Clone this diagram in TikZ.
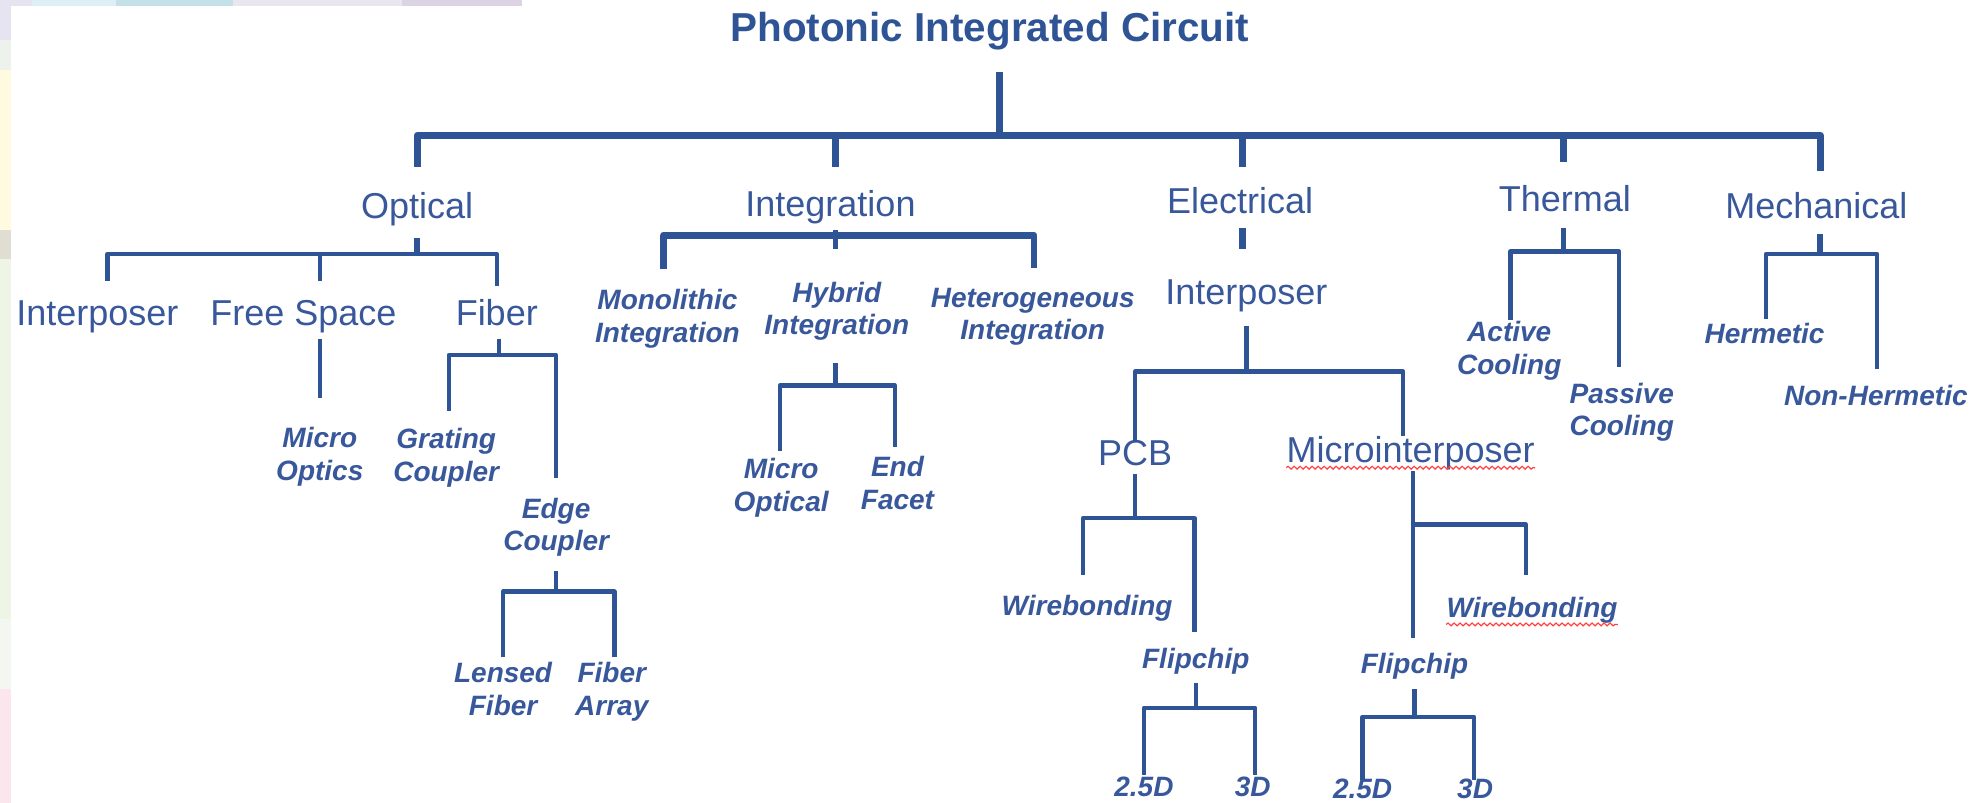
\documentclass[tikz,border=0pt]{standalone}
\usepackage{fontspec}
\setmainfont{Liberation Sans}
\usetikzlibrary{decorations.pathmorphing}
\definecolor{lineblue}{RGB}{46,84,150}
\definecolor{textblue}{RGB}{56,88,155}
\definecolor{bgA}{RGB}{230,228,240}
\definecolor{bgB}{RGB}{238,242,236}
\definecolor{bgC}{RGB}{255,250,224}
\definecolor{bgD}{RGB}{224,221,210}
\definecolor{bgE}{RGB}{238,245,228}
\definecolor{bgF}{RGB}{243,246,241}
\definecolor{bgG}{RGB}{251,230,238}
\definecolor{bgH}{RGB}{220,240,246}
\definecolor{bgI}{RGB}{198,224,234}
\definecolor{bgJ}{RGB}{234,230,240}
\definecolor{bgK}{RGB}{220,212,228}
\newcommand{\toprl}{\rule{0pt}{13pt}}
\newcommand{\botrl}{\rule[-3pt]{0pt}{3pt}}
\newcommand{\twol}[2]{\toprl#1\\#2\botrl}
\begin{document}
\begin{tikzpicture}[x=0.632pt,y=-0.632pt,
  thickln/.style={draw=lineblue,line width=3.4pt,line join=round},
  midln/.style={draw=lineblue,line width=2.8pt,line join=round},
  thinln/.style={draw=lineblue,line width=2.2pt,line join=round},
  ttl/.style={text=lineblue,font=\fontsize{20.2}{22}\selectfont\bfseries,inner sep=0pt},
  lvl/.style={text=textblue,font=\fontsize{18}{20}\selectfont,inner sep=0pt,text height=12.9pt,text depth=0pt},
  itl/.style={text=textblue,font=\fontsize{14}{16.4}\selectfont\bfseries\itshape,inner sep=0pt,text height=10pt,text depth=0pt},
  itm/.style={text=textblue,font=\fontsize{14}{16.4}\selectfont\bfseries\itshape,inner sep=0pt,align=center},
  wavy/.style={draw=red!75,line width=0.6pt,decorate,decoration={snake,amplitude=0.7pt,segment length=3pt}}]
\useasboundingbox (0,0) rectangle (1568,635);
% background strips
\fill[bgA] (0,0) rectangle (9,32);
\fill[bgB] (0,32) rectangle (9,55);
\fill[bgC] (0,55) rectangle (9,182);
\fill[bgD] (0,182) rectangle (9,205);
\fill[bgE] (0,205) rectangle (9,490);
\fill[bgF] (0,490) rectangle (9,545);
\fill[bgG] (0,545) rectangle (9,635);
\fill[bgA] (9,0) rectangle (25,5);
\fill[bgH] (25,0) rectangle (92,5);
\fill[bgI] (92,0) rectangle (184,5);
\fill[bgJ] (184,0) rectangle (318,5);
\fill[bgK] (318,0) rectangle (413,5);

% nodes
\node[ttl] (title) at (783,25) {Photonic Integrated Circuit};
\node[lvl] (optical) at (330,163) {Optical};
\node[lvl] (integration) at (657,161) {Integration};
\node[lvl] (electrical) at (981,159) {Electrical};
\node[lvl] (thermal) at (1238,157) {Thermal};
\node[lvl] (mechanical) at (1437,163) {Mechanical};
\node[lvl] (interpO) at (77,247) {Interposer};
\node[lvl] (freespace) at (240,247) {Free Space};
\node[lvl] (fiber) at (393,247) {Fiber};
\node[itm] (microoptics) at (253,359) {\twol{Micro}{Optics}};
\node[itm] (grating) at (353,360) {\twol{Grating}{Coupler}};
\node[itm] (edge) at (440,415) {\twol{Edge}{Coupler}};
\node[itm] (lensed) at (398,545) {\twol{Lensed}{Fiber}};
\node[itm] (fibarray) at (484,545) {\twol{Fiber}{Array}};
\node[itm] (mono) at (528,250) {\twol{Monolithic}{Integration}};
\node[itm] (hybrid) at (662,244) {\twol{Hybrid}{Integration}};
\node[itm] (hetero) at (817,248) {\twol{Heterogeneous}{Integration}};
\node[itm] (microoptical) at (618,384) {\twol{Micro}{Optical}};
\node[itm] (endfacet) at (710,382) {\twol{End}{Facet}};
\node[lvl] (interpE) at (986,231) {Interposer};
\node[lvl] (pcb) at (898,358) {PCB};
\node[lvl] (microint) at (1116,356) {Microinterposer};
\node[itl] (wb1) at (860,479) {Wirebonding};
\node[itl] (fc1) at (946,521) {Flipchip};
\node[itl] (d25a) at (905,622) {2.5D};
\node[itl] (d3a) at (991,622) {3D};
\node[itl] (wb2) at (1212,481) {Wirebonding};
\node[itl] (fc2) at (1119,525) {Flipchip};
\node[itl] (d25b) at (1078,624) {2.5D};
\node[itl] (d3b) at (1167,624) {3D};
\node[itm] (active) at (1194,275) {\twol{Active}{Cooling}};
\node[itm] (passive) at (1283,324) {\twol{Passive}{Cooling}};
\node[itl] (hermetic) at (1396,264) {Hermetic};
\node[itl] (nonhermetic) at (1484,313) {Non-Hermetic};

% spell-check underlines
\draw[wavy] (microint.south west |- 0,370) -- (microint.south east |- 0,370);
\draw[wavy] (wb2.south west |- 0,494) -- (wb2.south east |- 0,494);

% junction coordinates
\coordinate (root-t) at (791,57);
\coordinate (root-j) at (791,107);
\coordinate (top-l) at (330,107);
\coordinate (top-r) at (1440,107);
\coordinate (d-opt) at (330,132);
\coordinate (d-int) at (661,132);
\coordinate (d-ele) at (983,132);
\coordinate (d-the) at (1237,128);
\coordinate (d-mec) at (1440,135);
% top level
\draw[thickln] (root-t) -- (root-j);
\draw[thickln] (d-opt) |- (root-j) -| (d-mec);
\draw[thickln] (d-int) -- (d-int |- top-l);
\draw[thickln] (d-ele) -- (d-ele |- top-l);
\draw[thickln] (d-the) -- (d-the |- top-l);

% optical
\coordinate (opt-s) at (330,188);
\coordinate (opt-j) at (330,201);
\coordinate (opt-l) at (85,222);
\coordinate (opt-m) at (253,222);
\coordinate (opt-r) at (393,226);
\draw[midln] (opt-s) -- (opt-j);
\draw[thinln] (opt-l) |- (opt-j) -| (opt-r);
\draw[thinln] (opt-m) -- (opt-m |- opt-j);
\coordinate (fs-t) at (253,268);
\coordinate (fs-b) at (253,315);
\draw[thinln] (fs-t) -- (fs-b);
\coordinate (fib-s) at (395,268);
\coordinate (fib-j) at (395,281);
\coordinate (fib-l) at (355,325);
\coordinate (fib-r) at (440,378);
\draw[thinln] (fib-s) -- (fib-j);
\draw[thinln] (fib-l) |- (fib-j) -| (fib-r);
\coordinate (edg-s) at (440,452);
\coordinate (edg-j) at (440,468);
\coordinate (edg-l) at (398,520);
\coordinate (edg-r) at (486,520);
\draw[thinln] (edg-s) -- (edg-j);
\draw[thinln] (edg-l) |- (edg-j) -| (edg-r);

% integration
\coordinate (int-s) at (661,182);
\coordinate (int-j) at (661,186);
\coordinate (int-e) at (661,197);
\coordinate (int-l) at (525,213);
\coordinate (int-r) at (818,212);
\draw[thickln] (int-l) |- (int-j) -| (int-r);
\draw[midln] (int-s) -- (int-e);
\coordinate (hyb-s) at (661,287);
\coordinate (hyb-j) at (661,305);
\coordinate (hyb-l) at (617,357);
\coordinate (hyb-r) at (708,354);
\draw[thinln] (hyb-s) -- (hyb-j);
\draw[thinln] (hyb-l) |- (hyb-j) -| (hyb-r);

% electrical
\coordinate (ele-s) at (983,180);
\coordinate (ele-e) at (983,197);
\draw[thickln] (ele-s) -- (ele-e);
\coordinate (ipe-s) at (986,258);
\coordinate (ipe-j) at (986,294);
\coordinate (ipe-l) at (898,350);
\coordinate (ipe-r) at (1110,345);
\draw[thinln] (ipe-s) -- (ipe-j);
\draw[thinln] (ipe-l) |- (ipe-j) -| (ipe-r);
\coordinate (pcb-s) at (898,375);
\coordinate (pcb-j) at (898,410);
\coordinate (pcb-l) at (857,455);
\coordinate (pcb-r) at (945,500);
\draw[thinln] (pcb-s) -- (pcb-j);
\draw[thinln] (pcb-l) |- (pcb-j) -| (pcb-r);
\coordinate (fc1-s) at (946,540);
\coordinate (fc1-j) at (946,560);
\coordinate (fc1-l) at (905,613);
\coordinate (fc1-r) at (993,613);
\draw[thinln] (fc1-s) -- (fc1-j);
\draw[thinln] (fc1-l) |- (fc1-j) -| (fc1-r);
\coordinate (mi-s) at (1118,373);
\coordinate (mi-j) at (1118,415);
\coordinate (mi-l) at (1118,505);
\coordinate (mi-r) at (1207,455);
\draw[thinln] (mi-s) -- (mi-l);
\draw[thinln] (mi-j) -| (mi-r);
\coordinate (fc2-s) at (1119,545);
\coordinate (fc2-j) at (1119,567);
\coordinate (fc2-l) at (1078,617);
\coordinate (fc2-r) at (1166,617);
\draw[thinln] (fc2-s) -- (fc2-j);
\draw[thinln] (fc2-l) |- (fc2-j) -| (fc2-r);

% thermal
\coordinate (the-s) at (1237,180);
\coordinate (the-j) at (1237,199);
\coordinate (the-l) at (1195,253);
\coordinate (the-r) at (1281,290);
\draw[midln] (the-s) -- (the-j);
\draw[thinln] (the-l) |- (the-j) -| (the-r);

% mechanical
\coordinate (mec-s) at (1440,185);
\coordinate (mec-j) at (1440,201);
\coordinate (mec-l) at (1397,252);
\coordinate (mec-r) at (1485,292);
\draw[midln] (mec-s) -- (mec-j);
\draw[thinln] (mec-l) |- (mec-j) -| (mec-r);
\end{tikzpicture}
\end{document}
